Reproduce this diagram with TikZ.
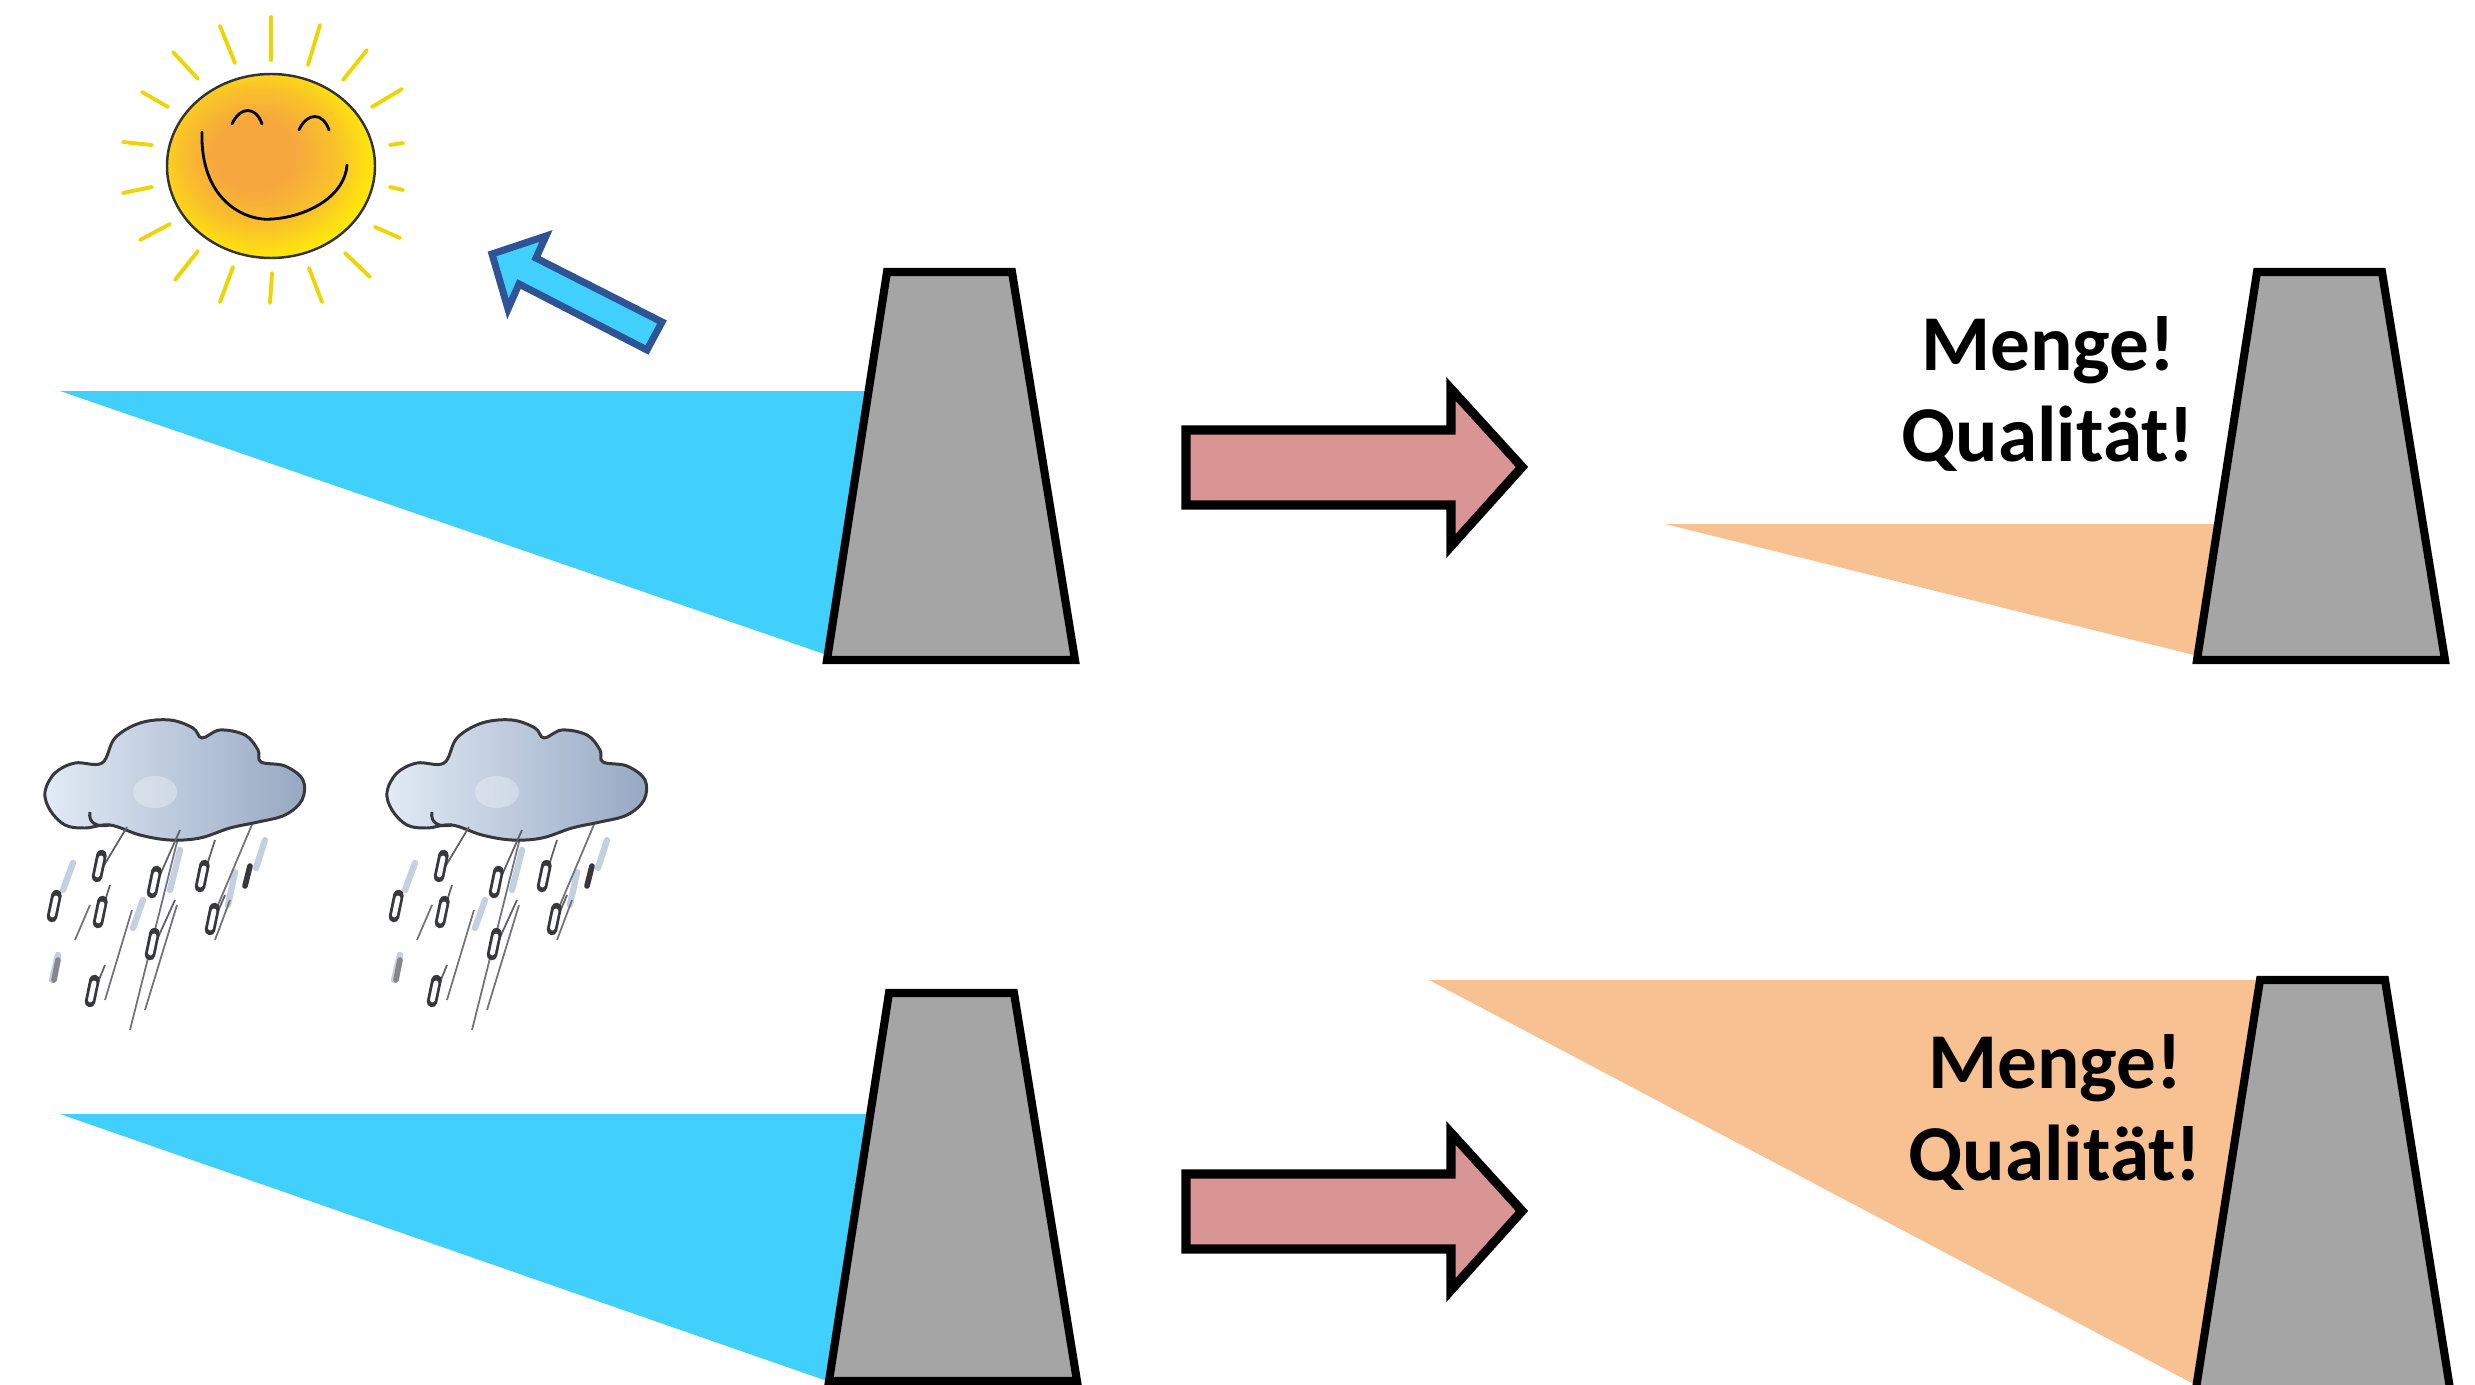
\documentclass[tikz,border=0pt]{standalone}
\usepackage{fontspec}
\setmainfont{Carlito}
\begin{document}
\definecolor{waterblue}{RGB}{65,207,251}
\definecolor{damgray}{RGB}{165,165,165}
\definecolor{waterorange}{RGB}{248,193,145}
\definecolor{flowred}{RGB}{217,149,148}
\definecolor{arrowedge}{RGB}{46,84,150}
\definecolor{sunyellow}{RGB}{255,232,10}
\definecolor{sunorange}{RGB}{246,168,62}
\definecolor{raygold}{RGB}{238,212,0}
\definecolor{cloudlight}{RGB}{226,235,246}
\definecolor{clouddark}{RGB}{150,168,194}
\definecolor{cloudline}{RGB}{55,55,60}
\definecolor{rainfaint}{RGB}{196,208,226}
\pgfdeclareradialshading{sunshade}{\pgfpoint{-5bp}{4bp}}{%
  color(0bp)=(sunorange); color(10bp)=(sunorange);
  color(19bp)=(sunorange!60!sunyellow); color(27bp)=(sunyellow); color(50bp)=(sunyellow)}
\begin{tikzpicture}[x=0.01cm,y=-0.01cm,
  dam/.style={fill=damgray,draw=black,line width=2.3pt,line join=miter},
  water/.style={fill=waterblue},
  lowwater/.style={fill=waterorange},
  flowarrow/.style={fill=flowred,draw=black,line width=2.6pt,line join=miter},
  label/.style={font=\bfseries\fontsize{22.5}{27}\selectfont,anchor=base,inner sep=0pt},
  ray/.style={draw=raygold,line width=1.1pt,line cap=round},
  raincloud/.pic={
    % faint wash streaks behind the rain
    \foreach \a/\b in {{43,163}/{33,190},{113,200}/{103,228},{205,172}/{198,205},{28,255}/{22,280},{235,140}/{226,168},{150,150}/{140,190}}
      \draw[rainfaint,line width=1.8pt,line cap=round] (\a) -- (\b);
    % thin rain lines
    \foreach \a/\b in {{150,130}/{100,330},{229,108}/{188,205},{102,210}/{75,300},{147,205}/{115,310},{60,205}/{45,240},{200,200}/{185,240}}
      \draw[cloudline!70,line width=0.5pt] (\a) -- (\b);
    % cloud body
    \draw[cloudline,line width=0.85pt,left color=cloudlight,right color=clouddark,line join=round]
      plot[smooth cycle,tension=0.6] coordinates {(20,110) (15,92) (25,73) (45,63) (72,63) (85,38) (110,23) (140,20) (163,28) (172,38) (190,30) (215,35) (228,50) (231,62) (255,66) (273,80) (272,100) (255,115) (228,122) (200,128) (170,138) (140,140) (110,135) (80,125) (55,128) (35,125)};
    \fill[white,opacity=0.3] (125,92) ellipse [x radius=22,y radius=16];
    \draw[cloudline,line width=0.85pt] (60,112) .. controls (58,122) and (66,128) .. (80,125);
    % drops with tails
    \foreach \p/\t in {{67,177}/{97,127},{68,223}/{80,185},{122,193}/{150,130},{170,187}/{185,140},{180,230}/{195,195},{120,255}/{145,200},{60,302}/{75,265}} {
      \draw[cloudline!80,line width=0.5pt] (\t) -- (\p);
    }
    \foreach \x/\y in {67/177,22/217,68/223,122/193,170/187,180/230,120/255,60/302} {
      \draw[cloudline,line width=3pt,line cap=round] (\x+4.5,\y-22) -- (\x,\y);
      \draw[white!80!cloudlight,line width=1.4pt,line cap=round] (\x+4,\y-19) -- (\x+0.4,\y-2);
    }
    \draw[cloudline,line width=1.6pt,line cap=round] (220,166) -- (215,186);
    \draw[cloudline!60,line width=1.6pt,line cap=round] (28,260) -- (24,280);
  }]
\useasboundingbox (0,0) rectangle (2475,1385);
\clip (0,0) rectangle (2475,1385);

% sun
\foreach \a/\b in {{271,17}/{271,60},{220,26}/{235,63},{173,52}/{198,79},{142,92}/{168,107},
  {123,142}/{152,145},{123,193}/{152,187},{140,240}/{170,224},{175,280}/{198,251},
  {220,302}/{233,267},{270,303}/{272,273},{322,302}/{309,268},{370,277}/{345,253},
  {400,238}/{375,227},{403,190}/{390,187},{403,143}/{390,145},{402,89}/{372,107},
  {367,50}/{343,80},{320,25}/{308,65}}
  \draw[ray] (\a) -- (\b);
\draw[draw=black!80,line width=0.7pt,shading=sunshade] (271,166) ellipse [x radius=104,y radius=92];
\draw[line width=0.8pt,line cap=round] (232,124) .. controls (240,106) and (256,106) .. (262,124);
\draw[line width=0.8pt,line cap=round] (299,130) .. controls (307,112) and (323,112) .. (329,130);
\draw[line width=0.8pt,line cap=round] (202,132) .. controls (200,200) and (245,222) .. (273,219) .. controls (310,216) and (345,195) .. (347,165);

% evaporation arrow
\draw[fill=waterblue,draw=arrowedge,line width=2pt,line join=miter]
  (492,254) -- (546,236) -- (536,258) -- (662,322) -- (647,350) -- (519,284) -- (508,309) -- cycle;

% rain clouds
\pic at (30,700) {raincloud};
\pic at (372,700) {raincloud};

% reservoirs before
\fill[water] (60,391) -- (900,391) -- (830,656) -- cycle;
\draw[dam] (887,272) -- (1012,272) -- (1075,660) -- (827,660) -- cycle;
\fill[water] (60,1114) -- (900,1114) -- (830,1382) -- cycle;
\draw[dam] (889,993) -- (1014,993) -- (1077,1381) -- (829,1381) -- cycle;

% transition arrows
\draw[flowarrow] (1186,430) -- (1451,430) -- (1451,389) -- (1522,467) -- (1451,546) -- (1451,505) -- (1186,505) -- cycle;
\draw[flowarrow] (1186,1174) -- (1451,1174) -- (1451,1133) -- (1522,1211) -- (1451,1290) -- (1451,1249) -- (1186,1249) -- cycle;

% reservoirs after
\fill[lowwater] (1665,524) -- (2270,524) -- (2198,656) -- cycle;
\draw[dam] (2257,272) -- (2382,272) -- (2445,660) -- (2197,660) -- cycle;
\fill[lowwater] (1429,980) -- (2290,980) -- (2205,1390) -- cycle;
\draw[dam] (2260,980) -- (2385,980) -- (2451,1395) -- (2195,1395) -- cycle;

% labels
\node[label] (m1) at (2048,370) {Menge!};
\node[label] (q1) at (2048,462) {Qualität!};
\node[label] (m2) at (2055,1088) {Menge!};
\node[label] (q2) at (2055,1180) {Qualität!};
\end{tikzpicture}
\end{document}
